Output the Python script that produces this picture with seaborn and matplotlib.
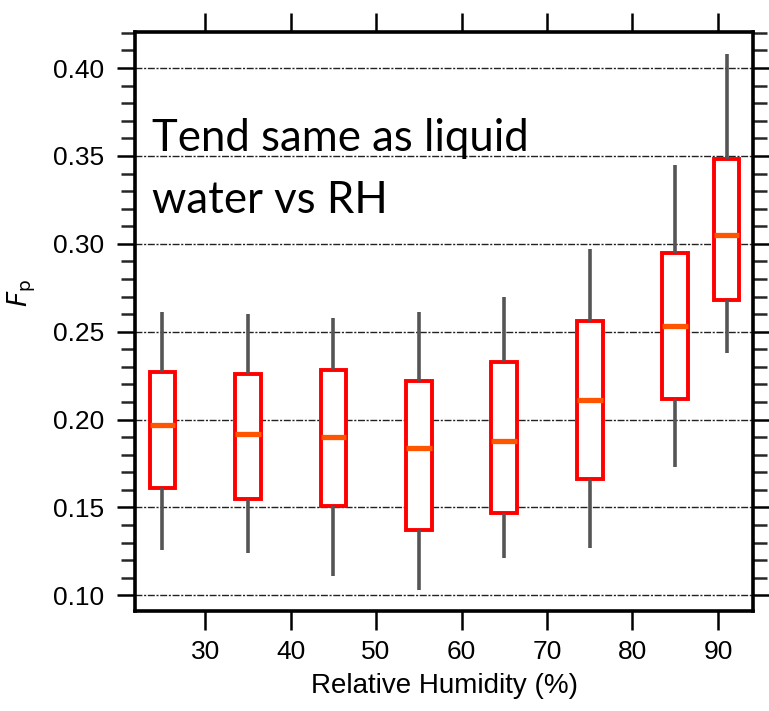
import numpy as np
import pandas as pd
import matplotlib
matplotlib.use("Agg")
import matplotlib.pyplot as plt
from matplotlib.ticker import MultipleLocator
import seaborn as sns

# Relative-humidity bins (%) and the five-number summary of Fp in each bin
rh_bins = [25, 35, 45, 55, 65, 75, 85, 91]
fp_min = [0.126, 0.124, 0.111, 0.103, 0.121, 0.127, 0.173, 0.238]
fp_q1 = [0.161, 0.155, 0.151, 0.137, 0.147, 0.166, 0.212, 0.268]
fp_median = [0.197, 0.192, 0.190, 0.184, 0.188, 0.211, 0.253, 0.305]
fp_q3 = [0.227, 0.226, 0.228, 0.222, 0.233, 0.256, 0.295, 0.348]
fp_max = [0.261, 0.260, 0.258, 0.261, 0.270, 0.297, 0.345, 0.408]

x_ticks = [30, 40, 50, 60, 70, 80, 90]
y_ticks = [0.10, 0.15, 0.20, 0.25, 0.30, 0.35, 0.40]

# Long-format table: five values per bin, whose quartiles are the summary above
rows = []
for i, rh in enumerate(rh_bins):
    for v in (fp_min[i], fp_q1[i], fp_median[i], fp_q3[i], fp_max[i]):
        rows.append({"rh": rh, "fp": v})
df = pd.DataFrame(rows)

sns.set_style("white")
plt.rcParams["font.family"] = ["Liberation Sans", "DejaVu Sans"]
plt.rcParams["text.color"] = "black"
plt.rcParams["axes.labelcolor"] = "black"

fig = plt.figure(figsize=(7.69, 7.11), dpi=100)
ax = fig.add_axes([0.1756, 0.1406, 0.8036, 0.8144])

for y in y_ticks:
    ax.axhline(y, color="#222222", lw=1.0, ls=(0, (5, 1.2, 1.5, 1.2)), zorder=0)

sns.boxplot(
    data=df, x="rh", y="fp", native_scale=True, whis=(0, 100), width=0.5,
    showcaps=False, fill=True, ax=ax,
    boxprops=dict(facecolor="white", edgecolor="#ff0000", linewidth=2.8),
    whiskerprops=dict(color="#555555", linewidth=2.6),
    medianprops=dict(color="#ff5500", linewidth=3.8),
)

ax.set_xlim(21.8, 94.1)
ax.set_ylim(0.0911, 0.4205)
ax.set_xticks(x_ticks)
ax.set_yticks(y_ticks)
ax.set_yticklabels([f"{v:.2f}" for v in y_ticks])
ax.yaxis.set_minor_locator(MultipleLocator(0.01))

for s in ax.spines.values():
    s.set_visible(True)
    s.set_color("black")
    s.set_linewidth(2.6)

ax.tick_params(axis="y", which="major", direction="out", length=13, width=1.8,
               labelsize=19, pad=9, left=True, right=True, colors="black")
ax.tick_params(axis="y", which="minor", direction="out", length=8, width=1.8,
               left=True, right=True)
ax.tick_params(axis="y", which="both", labelright=False)
ax.tick_params(axis="y", which="both", right=True, length=10)
ax.tick_params(axis="y", which="major", left=True, length=13)
ax.tick_params(axis="x", which="major", direction="out", length=14, width=1.8,
               labelsize=19, pad=7, bottom=True, top=True, labeltop=False,
               colors="black")

ax.set_xlabel("Relative Humidity (%)", fontsize=20, labelpad=6, color="black")
ax.set_ylabel(r"$F_\mathrm{p}$", fontsize=19, color="black")
ax.yaxis.set_label_coords(-0.157, 0.549)

ax.text(0.027, 0.852, "Tend same as liquid\nwater vs RH", transform=ax.transAxes,
        fontsize=31.5, family=["Lato", "DejaVu Sans"], ha="left", va="top",
        linespacing=1.64, color="black")

fig.savefig("out.png", dpi=100)
